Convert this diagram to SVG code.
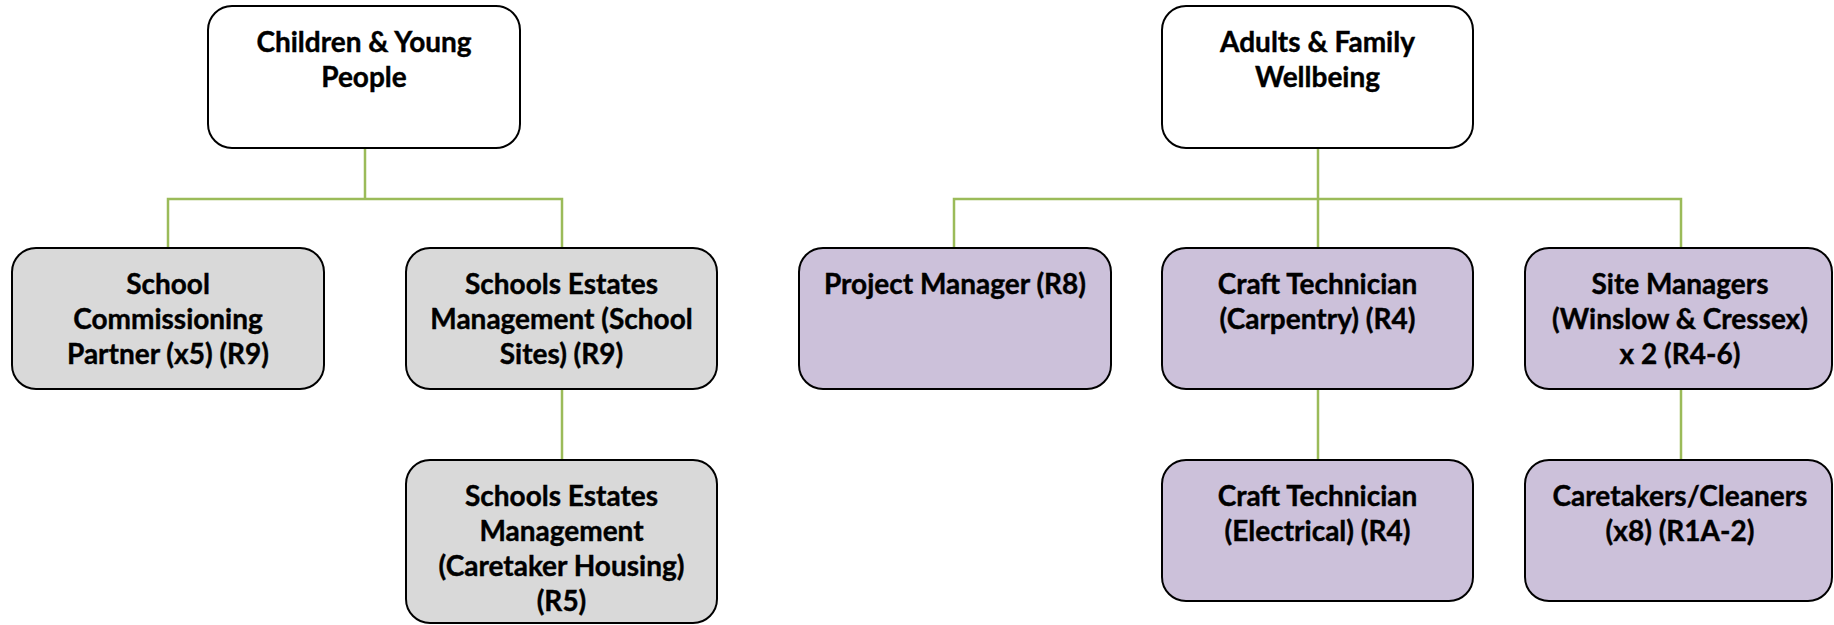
<svg xmlns="http://www.w3.org/2000/svg" width="1834" height="625" viewBox="0 0 1834 625">
<style>
.box{stroke:#000;stroke-width:2;}
.top{fill:#fff;}
.grey{fill:#d9d9d9;}
.purple{fill:#ccc1da;}
.t{font-family:Lato,"Liberation Sans",sans-serif;font-weight:bold;font-size:28px;fill:#000;stroke:#000;stroke-width:0.4;text-anchor:middle;}
.c{fill:none;stroke:#9bbb59;stroke-width:2.5;}
</style>
<rect width="1834" height="625" fill="#fff"/>
<g id="connectors">
<path class="c" d="M365 148V199M168 248V199H562V248M562 389V460"/>
<path class="c" d="M1318 148V248M954 248V199H1681V248M1318 389V460M1681 389V460"/>
</g>
<g id="n-cyp">
<rect class="box top" x="208" y="6" width="312" height="142" rx="24"/>
<text class="t" x="364" y="52">Children &amp; Young</text>
<text class="t" x="364" y="87">People</text>
</g>
<g id="n-scp">
<rect class="box grey" x="12" y="248" width="312" height="141" rx="24"/>
<text class="t" x="168" y="294">School</text>
<text class="t" x="168" y="329">Commissioning</text>
<text class="t" x="168" y="364">Partner (x5) (R9)</text>
</g>
<g id="n-sem">
<rect class="box grey" x="406" y="248" width="311" height="141" rx="24"/>
<text class="t" x="561.5" y="294">Schools Estates</text>
<text class="t" x="561.5" y="329">Management (School</text>
<text class="t" x="561.5" y="364">Sites) (R9)</text>
</g>
<g id="n-sem2">
<rect class="box grey" x="406" y="460" width="311" height="163" rx="24"/>
<text class="t" x="561.5" y="506">Schools Estates</text>
<text class="t" x="561.5" y="541">Management</text>
<text class="t" x="561.5" y="576">(Caretaker Housing)</text>
<text class="t" x="561.5" y="611">(R5)</text>
</g>
<g id="n-afw">
<rect class="box top" x="1162" y="6" width="311" height="142" rx="24"/>
<text class="t" x="1317.5" y="52">Adults &amp; Family</text>
<text class="t" x="1317.5" y="87">Wellbeing</text>
</g>
<g id="n-pm">
<rect class="box purple" x="799" y="248" width="312" height="141" rx="24"/>
<text class="t" x="955" y="294">Project Manager (R8)</text>
</g>
<g id="n-ctc">
<rect class="box purple" x="1162" y="248" width="311" height="141" rx="24"/>
<text class="t" x="1317.5" y="294">Craft Technician</text>
<text class="t" x="1317.5" y="329">(Carpentry) (R4)</text>
</g>
<g id="n-sm">
<rect class="box purple" x="1525" y="248" width="307" height="141" rx="24"/>
<text class="t" x="1680" y="294">Site Managers</text>
<text class="t" x="1680" y="329">(Winslow &amp; Cressex)</text>
<text class="t" x="1680" y="364">x 2 (R4-6)</text>
</g>
<g id="n-cte">
<rect class="box purple" x="1162" y="460" width="311" height="141" rx="24"/>
<text class="t" x="1317.5" y="506">Craft Technician</text>
<text class="t" x="1317.5" y="541">(Electrical) (R4)</text>
</g>
<g id="n-cc">
<rect class="box purple" x="1525" y="460" width="307" height="141" rx="24"/>
<text class="t" x="1680" y="506">Caretakers/Cleaners</text>
<text class="t" x="1680" y="541">(x8) (R1A-2)</text>
</g>
</svg>
